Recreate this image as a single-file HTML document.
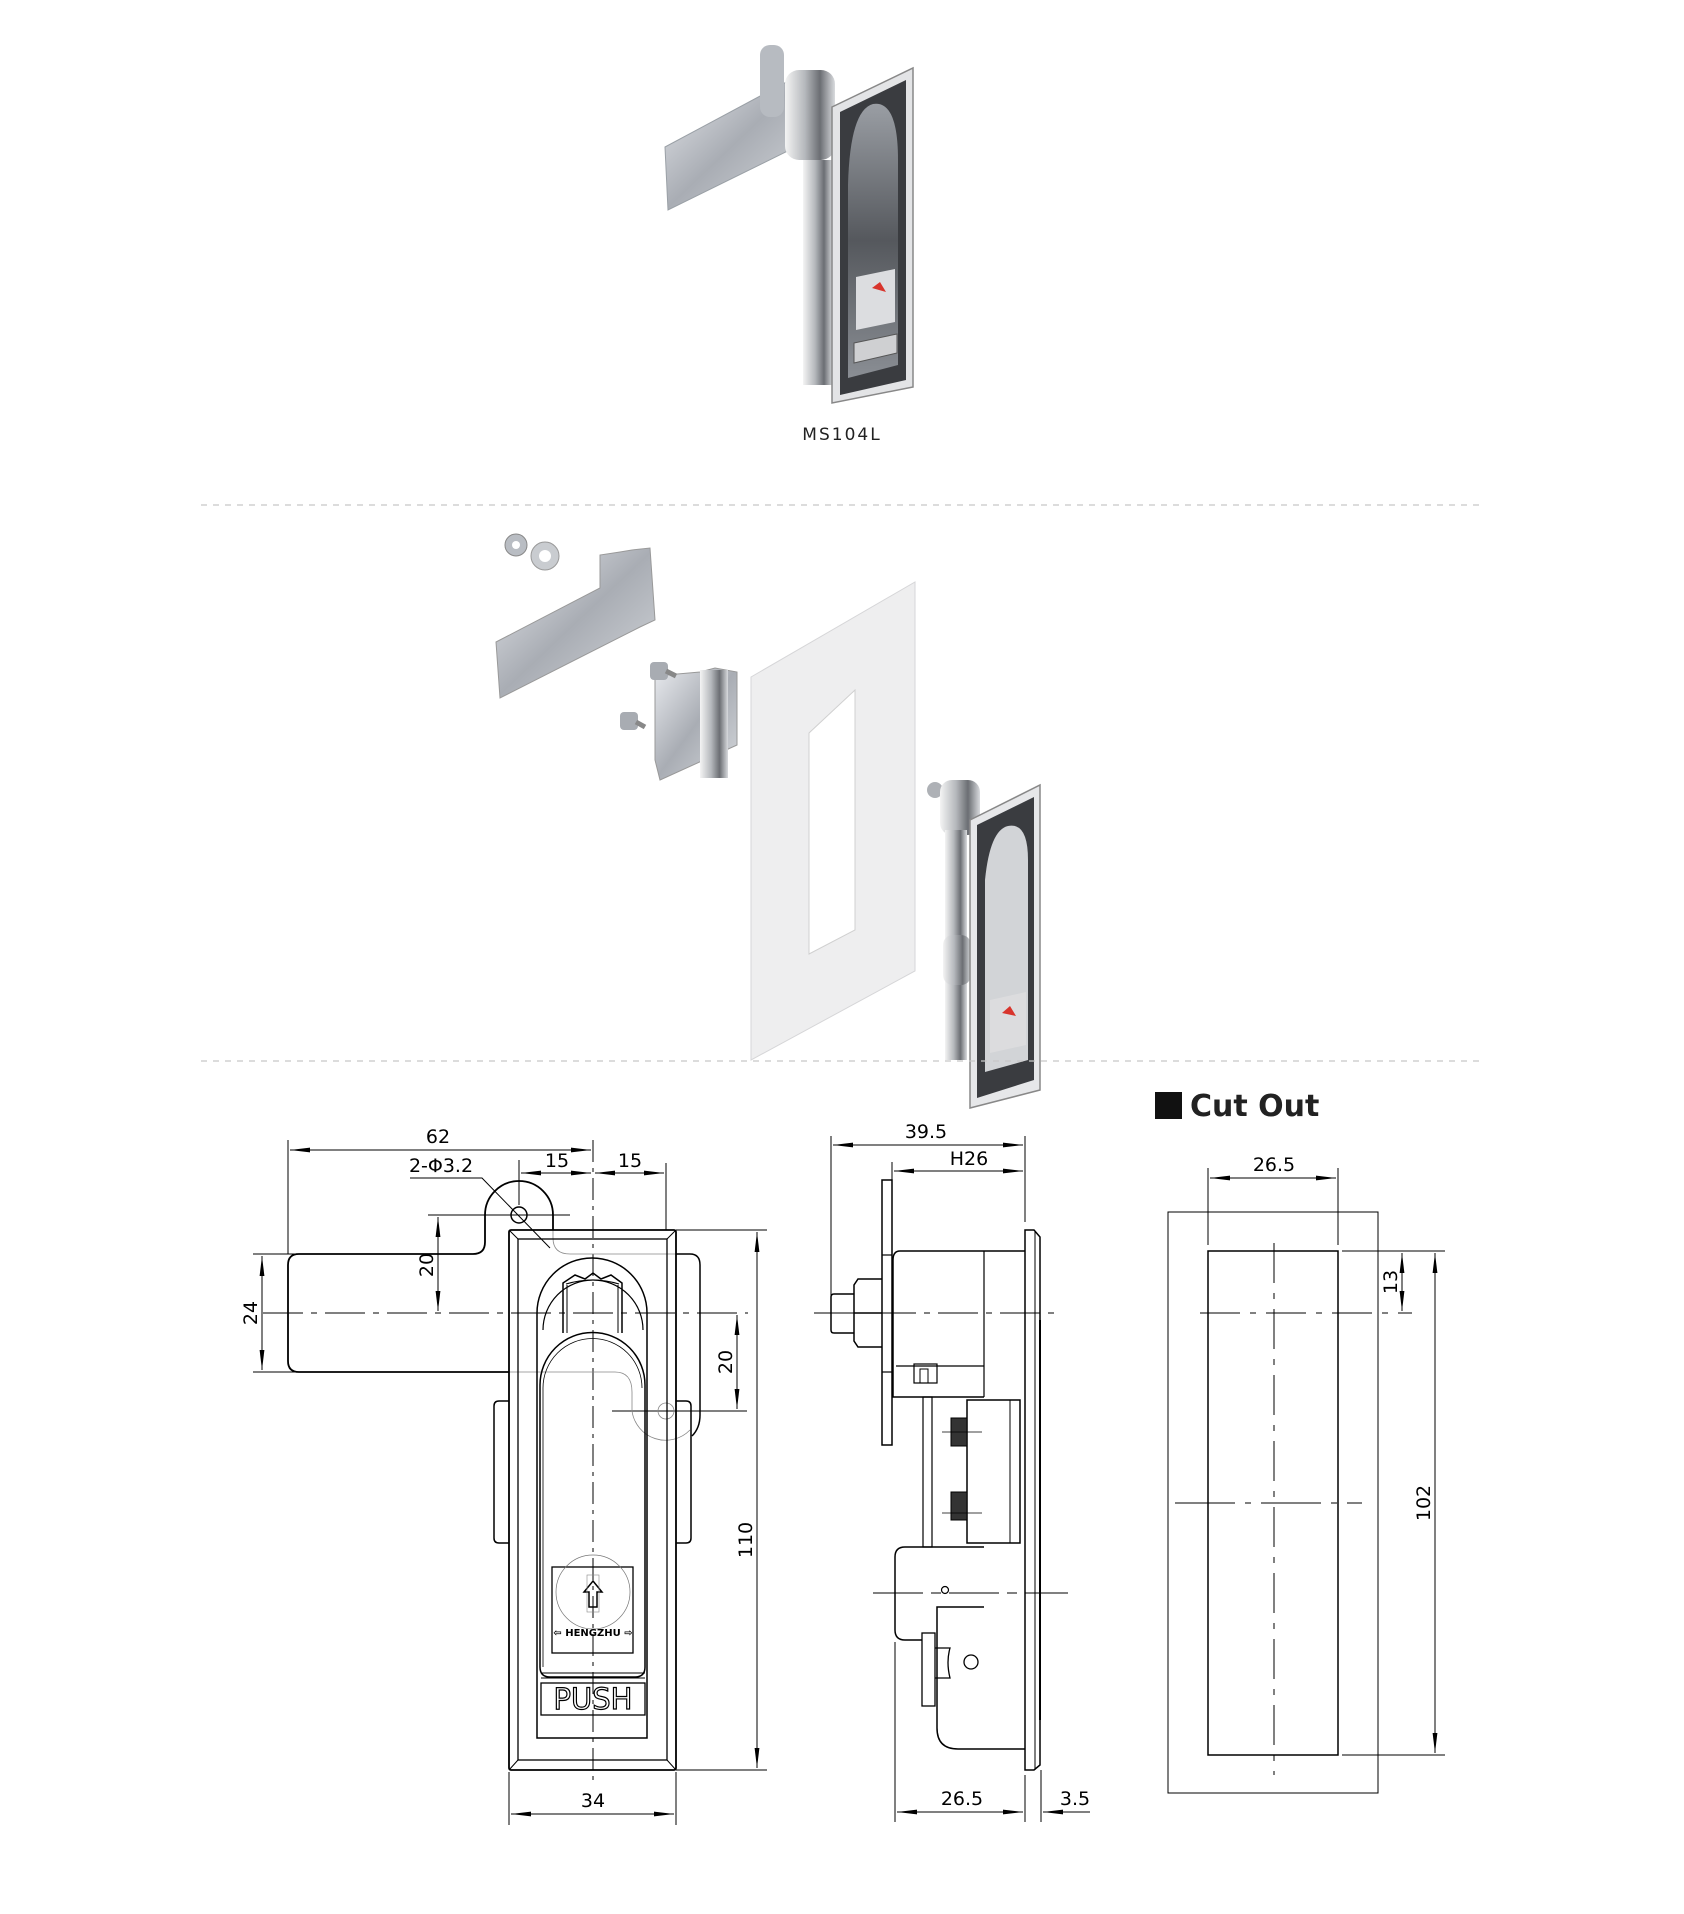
<!DOCTYPE html>
<html><head><meta charset="utf-8"><style>
html,body{margin:0;padding:0;background:#fff;}
svg{display:block;}
text{font-family:"DejaVu Sans","Liberation Sans",sans-serif;}
</style></head><body>
<svg width="1684" height="1914" viewBox="0 0 1684 1914" xmlns="http://www.w3.org/2000/svg">
<defs>
<marker id="ar" viewBox="0 0 20 6" refX="20" refY="3" markerWidth="20" markerHeight="6" markerUnits="userSpaceOnUse" orient="auto-start-reverse">
<path d="M20,3 L0,0.6 L0,5.4 Z" fill="#000"/></marker>
<linearGradient id="met" x1="0" y1="0" x2="1" y2="1"><stop offset="0" stop-color="#e8eaee"/><stop offset="0.5" stop-color="#a9adb4"/><stop offset="1" stop-color="#d5d8dc"/></linearGradient>
<linearGradient id="chr" x1="0" y1="0" x2="1" y2="0"><stop offset="0" stop-color="#f4f4f4"/><stop offset="0.4" stop-color="#b5b8bc"/><stop offset="0.7" stop-color="#6b6e73"/><stop offset="1" stop-color="#d9dbde"/></linearGradient>
<linearGradient id="dk" x1="0" y1="0" x2="0" y2="1"><stop offset="0" stop-color="#9a9ea4"/><stop offset="0.5" stop-color="#55585d"/><stop offset="1" stop-color="#8a8e94"/></linearGradient>
</defs>

<!-- TOP PRODUCT PHOTO -->
<g>
<polygon points="665,147 805,72 810,140 668,210" fill="url(#met)" stroke="#9aa0a6" stroke-width="1"/>
<rect x="760" y="45" width="24" height="72" rx="10" fill="#b7bbc1"/>
<rect x="785" y="70" width="50" height="90" rx="14" fill="url(#chr)"/>
<rect x="803" y="160" width="30" height="225" fill="url(#chr)"/>
<polygon points="832,107 913,68 913,387 832,403" fill="#e3e4e6" stroke="#888" stroke-width="1.5"/>
<polygon points="840,112 906,80 906,380 840,395" fill="#3a3c40"/>
<path d="M848,185 Q850,110 873,104 Q898,100 898,160 V365 L848,378 Z" fill="url(#dk)"/>
<polygon points="856,277 895,269 895,322 856,330" fill="#dcdde0"/>
<polygon points="872,288 880,282 886,292" fill="#d8342c"/>
<polygon points="854,343 897,334 897,353 854,363" fill="#cfd0d2" stroke="#555" stroke-width="1"/>
<text x="842" y="440" font-size="17" text-anchor="middle" letter-spacing="2" fill="#222">MS104L</text>
</g>

<line x1="201" y1="505" x2="1483" y2="505" stroke="#c8c8c8" stroke-width="1.2" stroke-dasharray="6,6"/>

<!-- EXPLODED VIEW -->
<g>
<polygon points="496,642 600,588 600,555 620,552 632,550 650,548 655,620 640,627 500,698" fill="url(#met)" stroke="#999" stroke-width="1"/>
<circle cx="516" cy="545" r="11" fill="#b9bdc3" stroke="#888"/><circle cx="516" cy="545" r="4" fill="#fff"/>
<circle cx="545" cy="556" r="14" fill="#c9ccd0" stroke="#999"/><circle cx="545" cy="556" r="6" fill="#fff"/>
<polygon points="655,676 700,672 715,668 737,672 737,745 660,780 655,760" fill="url(#met)" stroke="#999"/>
<rect x="700" y="670" width="28" height="108" fill="url(#chr)"/>
<rect x="650" y="662" width="18" height="18" rx="4" fill="#a8acb2"/><line x1="666" y1="671" x2="676" y2="676" stroke="#888" stroke-width="5"/>
<rect x="620" y="712" width="18" height="18" rx="4" fill="#a8acb2"/><line x1="636" y1="722" x2="645" y2="727" stroke="#888" stroke-width="5"/>
<polygon points="751,677 915,582 915,971 751,1060" fill="#eeeeef" stroke="#d6d6d8" stroke-width="1"/>
<polygon points="809,733 855,690 855,930 809,954" fill="#fff" stroke="#d0d0d0"/>
<circle cx="935" cy="790" r="8" fill="#aeb1b6"/>
<rect x="940" y="780" width="40" height="55" rx="12" fill="url(#chr)"/>
<rect x="945" y="830" width="22" height="230" fill="url(#chr)"/>
<rect x="943" y="935" width="28" height="50" rx="10" fill="url(#chr)"/>
<polygon points="970,820 1040,785 1040,1090 970,1108" fill="#e6e7e9" stroke="#888" stroke-width="1.5"/>
<polygon points="977,825 1034,797 1034,1080 977,1098" fill="#3a3c40"/>
<path d="M985,880 Q990,830 1008,826 Q1028,822 1028,860 V1060 L985,1072 Z" fill="#d2d4d7"/>
<polygon points="990,1000 1026,992 1026,1045 990,1053" fill="#dcdcde"/>
<polygon points="1002,1013 1010,1006 1016,1016" fill="#d8342c"/>
</g>

<line x1="201" y1="1061" x2="1483" y2="1061" stroke="#c8c8c8" stroke-width="1.2" stroke-dasharray="6,6"/>

<!-- FRONT VIEW -->
<g fill="none" stroke="#000">
<g stroke-width="1">
<line x1="288" y1="1140" x2="288" y2="1254"/>
<line x1="593" y1="1140" x2="593" y2="1785" stroke-dasharray="22,6,4,6"/>
<line x1="519" y1="1160" x2="519" y2="1205"/>
<line x1="666" y1="1163" x2="666" y2="1230"/>
<line x1="290" y1="1150" x2="591" y2="1150" marker-start="url(#ar)" marker-end="url(#ar)"/>
<line x1="521" y1="1173" x2="591" y2="1173" marker-start="url(#ar)" marker-end="url(#ar)"/>
<line x1="595" y1="1173" x2="664" y2="1173" marker-start="url(#ar)" marker-end="url(#ar)"/>
<polyline points="410,1178 482,1178 550,1248"/>
<line x1="428" y1="1215" x2="570" y2="1215"/>
<line x1="253" y1="1254" x2="300" y2="1254"/>
<line x1="253" y1="1372" x2="300" y2="1372"/>
<line x1="262" y1="1256" x2="262" y2="1370" marker-start="url(#ar)" marker-end="url(#ar)"/>
<line x1="438" y1="1217" x2="438" y2="1311" marker-start="url(#ar)" marker-end="url(#ar)"/>
<line x1="263" y1="1313" x2="748" y2="1313" stroke-dasharray="40,8,6,8"/>
<line x1="612" y1="1411" x2="747" y2="1411"/>
<line x1="737" y1="1315" x2="737" y2="1409" marker-start="url(#ar)" marker-end="url(#ar)"/>
<line x1="676" y1="1230" x2="767" y2="1230"/>
<line x1="676" y1="1770" x2="767" y2="1770"/>
<line x1="757" y1="1232" x2="757" y2="1768" marker-start="url(#ar)" marker-end="url(#ar)"/>
<line x1="509" y1="1772" x2="509" y2="1825"/>
<line x1="676" y1="1772" x2="676" y2="1825"/>
<line x1="511" y1="1814" x2="674" y2="1814" marker-start="url(#ar)" marker-end="url(#ar)"/>
</g>
<path d="M509,1372 H299 Q288,1372 288,1361 V1265 Q288,1254 299,1254 H473 Q485,1254 485,1242 V1215 A34,34 0 0 1 553,1215 V1230" stroke-width="1.8"/>
<circle cx="519" cy="1215" r="8" stroke-width="1.5"/>
<g stroke="#888" stroke-width="0.8">
<path d="M553,1230 V1238 Q553,1254 570,1254 H676"/>
<path d="M509,1372 H615 Q632,1372 632,1392 V1411 A34,34 0 0 0 690,1430"/>
<circle cx="666" cy="1411" r="8"/>
</g>
<path d="M676,1254 H690 Q700,1254 700,1265 V1415 Q700,1428 692,1436" stroke-width="1.5"/>
<path d="M509,1401 H499 Q494,1401 494,1406 V1538 Q494,1543 499,1543 H509" stroke-width="1.5"/>
<path d="M676,1401 H686 Q691,1401 691,1406 V1538 Q691,1543 686,1543 H676" stroke-width="1.5"/>
<rect x="509" y="1230" width="167" height="540" rx="2" stroke-width="1.8"/>
<rect x="518" y="1239" width="149" height="521" stroke-width="1.3"/>
<path d="M509,1230 L518,1239 M676,1230 L667,1239 M509,1770 L518,1760 M676,1770 L667,1760" stroke-width="1"/>
<path d="M537,1738 V1313 A55,55 0 0 1 647,1313 V1738 Z" stroke-width="1.5"/>
<path d="M543,1330 A50,50 0 0 1 643,1330" stroke-width="1.2"/>
<path d="M563,1333 V1283 L575,1275 L585,1279 L593,1273 L601,1279 L611,1275 L622,1283 V1333" stroke-width="1.5"/>
<path d="M567,1333 V1285 M618,1333 V1285" stroke-width="1"/>
<path d="M566,1284 Q593,1276 619,1284" stroke-width="1"/>
<path d="M540,1667 V1385 A52.5,52.5 0 0 1 645,1385 V1667 Q645,1677 635,1677 H550 Q540,1677 540,1667 Z" stroke-width="1.5"/>
<path d="M543,1667 V1388 A49.5,49.5 0 0 1 642,1388" stroke-width="0.8"/>
<line x1="541" y1="1673" x2="645" y2="1673" stroke-width="1"/>
<line x1="541" y1="1678" x2="645" y2="1678" stroke-width="1"/>
<rect x="541" y="1683" width="104" height="32" stroke-width="1.3"/>
<rect x="552" y="1567" width="81" height="86" stroke-width="1.3"/>
<circle cx="593" cy="1592" r="37" stroke="#777" stroke-width="0.7"/>
<path d="M593,1581 L602,1592 H597 V1607 H589 V1592 H584 Z" stroke-width="1.5"/>
<rect x="587" y="1575" width="12" height="37" stroke="#888" stroke-width="0.6"/>
</g>
<g fill="#000" font-size="19" text-anchor="middle">
<text x="438" y="1143">62</text>
<text x="441" y="1172">2-Φ3.2</text>
<text x="557" y="1167">15</text>
<text x="630" y="1167">15</text>
<text x="593" y="1807">34</text>
<text transform="translate(257,1313) rotate(-90)" x="0" y="0">24</text>
<text transform="translate(433,1265) rotate(-90)" x="0" y="0">20</text>
<text transform="translate(732,1362) rotate(-90)" x="0" y="0">20</text>
<text transform="translate(752,1540) rotate(-90)" x="0" y="0">110</text>
</g>
<text x="593" y="1636" font-size="10" font-weight="bold" text-anchor="middle" font-family="Liberation Sans, sans-serif">⇦ HENGZHU ⇨</text>
<text x="593" y="1709" font-size="29" text-anchor="middle" fill="#fff" stroke="#000" stroke-width="1.2" font-family="Liberation Sans, sans-serif">PUSH</text>

<!-- SIDE VIEW -->
<g fill="none" stroke="#000">
<g stroke-width="1">
<line x1="831" y1="1136" x2="831" y2="1295"/>
<line x1="892" y1="1162" x2="892" y2="1180"/>
<line x1="1025" y1="1136" x2="1025" y2="1222"/>
<line x1="833" y1="1145" x2="1023" y2="1145" marker-start="url(#ar)" marker-end="url(#ar)"/>
<line x1="894" y1="1171" x2="1023" y2="1171" marker-start="url(#ar)" marker-end="url(#ar)"/>
<line x1="814" y1="1313" x2="1056" y2="1313" stroke-dasharray="40,8,6,8"/>
<line x1="873" y1="1593" x2="1068" y2="1593" stroke-dasharray="50,8,10,8"/>
<line x1="895" y1="1642" x2="895" y2="1822"/>
<line x1="1025" y1="1775" x2="1025" y2="1822"/>
<line x1="1041" y1="1770" x2="1041" y2="1822"/>
<line x1="897" y1="1812" x2="1023" y2="1812" marker-start="url(#ar)" marker-end="url(#ar)"/>
<line x1="1060" y1="1812" x2="1090" y2="1812"/>
<line x1="1063" y1="1812" x2="1043" y2="1812" marker-end="url(#ar)"/>
</g>
<rect x="882" y="1180" width="10" height="265" stroke-width="1.5"/>
<line x1="882" y1="1255" x2="892" y2="1255" stroke-width="1.2"/>
<line x1="882" y1="1372" x2="892" y2="1372" stroke-width="1.2"/>
<path d="M882,1279 H858 L854,1285 V1341 L858,1347 H882 M854,1313 H882" stroke-width="1.5"/>
<path d="M854,1294 H834 Q831,1294 831,1297 V1330 Q831,1333 834,1333 H854" stroke-width="1.5"/>
<path d="M1025,1251 H900 Q893,1251 893,1260 V1397 H984" stroke-width="1.5"/>
<path d="M984,1251 V1397" stroke-width="1.2"/>
<line x1="896" y1="1366" x2="984" y2="1366" stroke-width="1.2"/>
<rect x="914" y="1364" width="23" height="19" stroke-width="1.2"/>
<rect x="920" y="1369" width="8" height="14" stroke-width="1"/>
<path d="M1025,1230 H1034 L1040,1237 V1765 L1034,1770 H1025 Z" stroke-width="1.5"/>
<line x1="1035" y1="1232" x2="1035" y2="1770" stroke-width="1"/>
<line x1="1040" y1="1320" x2="1040" y2="1720" stroke-width="2"/>
<rect x="967" y="1400" width="53" height="143" stroke-width="1.5"/>
<line x1="1010" y1="1400" x2="1010" y2="1543" stroke-width="1"/>
<rect x="923" y="1397" width="9" height="150" stroke-width="1.2"/>
<g fill="#333" stroke-width="1">
<rect x="951" y="1418" width="16" height="28"/><rect x="951" y="1492" width="16" height="28"/>
</g>
<line x1="942" y1="1432" x2="982" y2="1432" stroke-width="0.8"/>
<line x1="942" y1="1513" x2="982" y2="1513" stroke-width="0.8"/>
<path d="M984,1547 H905 Q895,1547 895,1557 V1630 Q895,1640 905,1640 H922" stroke-width="1.5"/>
<path d="M984,1607 H937 V1728 Q937,1749 958,1749 H1025" stroke-width="1.5"/>
<rect x="922" y="1633" width="13" height="73" stroke-width="1.3"/>
<path d="M935,1648 H950 Q946,1662 950,1678 H935" stroke-width="1.3"/>
<circle cx="945" cy="1590" r="3.5" stroke-width="1.2"/>
<circle cx="971" cy="1662" r="7" stroke-width="1.3"/>
</g>
<g fill="#000" font-size="19" text-anchor="middle">
<text x="926" y="1138">39.5</text>
<text x="969" y="1165">H26</text>
<text x="962" y="1805">26.5</text>
<text x="1075" y="1805">3.5</text>
</g>

<!-- CUT OUT -->
<rect x="1155" y="1092" width="27" height="27" fill="#111"/>
<text x="1190" y="1116" font-size="30" font-weight="bold" fill="#222" font-family="Liberation Sans, sans-serif">Cut Out</text>
<g fill="none" stroke="#000">
<rect x="1168" y="1212" width="210" height="581" stroke-width="1"/>
<rect x="1208" y="1251" width="130" height="504" stroke-width="1.5"/>
<g stroke-width="1">
<line x1="1274" y1="1243" x2="1274" y2="1775" stroke-dasharray="40,10,6,10"/>
<line x1="1200" y1="1313" x2="1412" y2="1313" stroke-dasharray="40,10,6,10"/>
<line x1="1175" y1="1503" x2="1362" y2="1503" stroke-dasharray="60,10,6,10"/>
<line x1="1208" y1="1168" x2="1208" y2="1245"/>
<line x1="1338" y1="1168" x2="1338" y2="1245"/>
<line x1="1210" y1="1178" x2="1336" y2="1178" marker-start="url(#ar)" marker-end="url(#ar)"/>
<line x1="1342" y1="1251" x2="1445" y2="1251"/>
<line x1="1342" y1="1755" x2="1445" y2="1755"/>
<line x1="1402" y1="1253" x2="1402" y2="1311" marker-start="url(#ar)" marker-end="url(#ar)"/>
<line x1="1435" y1="1253" x2="1435" y2="1753" marker-start="url(#ar)" marker-end="url(#ar)"/>
</g>
</g>
<g fill="#000" font-size="19" text-anchor="middle">
<text x="1274" y="1171">26.5</text>
<text transform="translate(1397,1282) rotate(-90)">13</text>
<text transform="translate(1430,1503) rotate(-90)">102</text>
</g>
</svg>
</body></html>
